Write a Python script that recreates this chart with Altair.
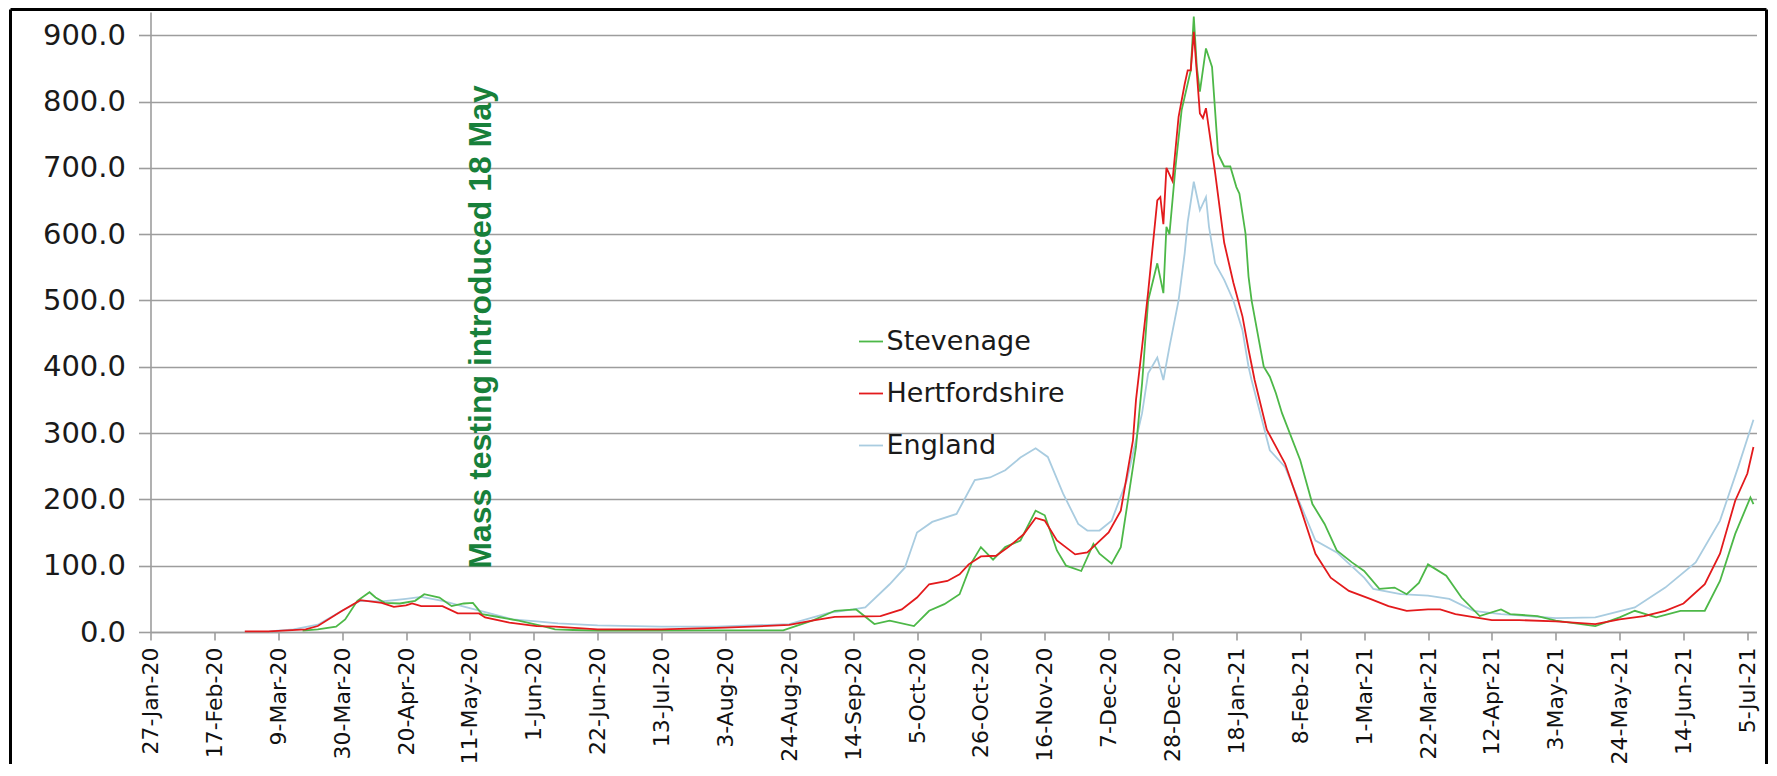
import altair as alt
import pandas as pd

# ---------------- data ----------------
series_names = ["Stevenage", "Hertfordshire", "England"]
series_colors = ["#4DB848", "#E31A1C", "#A9CCE0"]

england_dates = [
    "2020-03-06", "2020-03-14", "2020-03-22", "2020-03-30", "2020-04-05", "2020-04-12",
    "2020-04-20", "2020-04-25", "2020-05-02", "2020-05-10", "2020-05-17", "2020-05-25",
    "2020-06-02", "2020-06-09", "2020-06-22", "2020-07-13", "2020-07-31", "2020-08-24",
    "2020-09-06", "2020-09-14", "2020-09-18", "2020-09-26", "2020-10-01", "2020-10-05",
    "2020-10-10", "2020-10-18", "2020-10-24", "2020-10-29", "2020-11-03", "2020-11-08",
    "2020-11-13", "2020-11-17", "2020-11-22", "2020-11-27", "2020-11-30", "2020-12-04",
    "2020-12-08", "2020-12-13", "2020-12-18", "2020-12-20", "2020-12-23", "2020-12-25",
    "2020-12-27", "2020-12-30", "2021-01-01", "2021-01-02", "2021-01-04", "2021-01-06",
    "2021-01-08", "2021-01-09", "2021-01-11", "2021-01-14", "2021-01-17", "2021-01-20",
    "2021-01-22", "2021-01-23", "2021-01-29", "2021-02-03", "2021-02-08", "2021-02-13",
    "2021-02-20", "2021-03-01", "2021-03-04", "2021-03-13", "2021-03-22", "2021-03-29",
    "2021-04-06", "2021-04-15", "2021-05-03", "2021-05-16", "2021-05-29", "2021-06-08",
    "2021-06-18", "2021-06-26", "2021-07-02", "2021-07-07",
]
england_values = [
    1, 4, 11, 32, 47, 46,
    50, 53, 47, 37, 29, 19,
    16, 13, 10, 8, 8, 12,
    29, 34, 37, 72, 97, 150,
    166, 178, 229, 233, 244, 263,
    277, 264, 209, 163, 153, 153,
    168, 229, 330, 390, 414, 380,
    430, 500, 571, 618, 679, 636,
    656, 611, 556, 531, 500, 455,
    400, 380, 274, 249, 193, 138,
    120, 82, 65, 57, 55, 50,
    32, 27, 21, 22, 37, 67,
    105, 168, 249, 320,
]

herts_dates = [
    "2020-02-27", "2020-03-06", "2020-03-18", "2020-03-22", "2020-03-30", "2020-04-05",
    "2020-04-12", "2020-04-16", "2020-04-20", "2020-04-22", "2020-04-25", "2020-05-02",
    "2020-05-07", "2020-05-14", "2020-05-16", "2020-05-24", "2020-06-02", "2020-06-08",
    "2020-06-22", "2020-07-13", "2020-08-03", "2020-08-24", "2020-09-01", "2020-09-08",
    "2020-09-18", "2020-09-23", "2020-09-30", "2020-10-05", "2020-10-09", "2020-10-15",
    "2020-10-19", "2020-10-22", "2020-10-26", "2020-10-31", "2020-11-04", "2020-11-09",
    "2020-11-13", "2020-11-16", "2020-11-20", "2020-11-26", "2020-11-30", "2020-12-03",
    "2020-12-07", "2020-12-11", "2020-12-15", "2020-12-16", "2020-12-18", "2020-12-20",
    "2020-12-23", "2020-12-24", "2020-12-25", "2020-12-26", "2020-12-28", "2020-12-30",
    "2021-01-01", "2021-01-02", "2021-01-03", "2021-01-04", "2021-01-06", "2021-01-07",
    "2021-01-08", "2021-01-11", "2021-01-14", "2021-01-17", "2021-01-20", "2021-01-22",
    "2021-01-24", "2021-01-28", "2021-02-03", "2021-02-08", "2021-02-13", "2021-02-18",
    "2021-02-24", "2021-03-03", "2021-03-09", "2021-03-15", "2021-03-22", "2021-03-26",
    "2021-03-31", "2021-04-08", "2021-04-12", "2021-04-21", "2021-05-03", "2021-05-16",
    "2021-05-24", "2021-06-01", "2021-06-08", "2021-06-14", "2021-06-21", "2021-06-26",
    "2021-07-01", "2021-07-05", "2021-07-07",
]
herts_values = [
    1, 1, 4, 9, 32, 48,
    44, 38, 40, 43, 39, 39,
    28, 28, 22, 14, 9, 8,
    4, 4, 6.5, 10.6, 17.7, 22.7,
    23.7, 24, 34, 52, 72, 77,
    87, 102, 114, 115, 128, 147,
    172, 168, 138, 117, 120, 133,
    150, 183, 289, 350, 430, 513,
    651, 656, 615, 700, 680, 777,
    826, 847, 847, 905, 782, 775,
    790, 693, 587, 527, 476, 426,
    380, 305, 254, 188, 118, 82,
    62, 50, 39, 32, 34, 34,
    27, 21, 18, 18, 16, 12,
    19, 24, 32, 43, 72, 118,
    198, 239, 279,
]

stev_dates = [
    "2020-03-17", "2020-03-22", "2020-03-28", "2020-03-31", "2020-04-04", "2020-04-08",
    "2020-04-10", "2020-04-13", "2020-04-18", "2020-04-23", "2020-04-26", "2020-05-01",
    "2020-05-05", "2020-05-09", "2020-05-12", "2020-05-15", "2020-05-20", "2020-05-27",
    "2020-06-04", "2020-06-08", "2020-06-14", "2020-06-22", "2020-07-31", "2020-08-22",
    "2020-09-01", "2020-09-08", "2020-09-15", "2020-09-21", "2020-09-26", "2020-10-04",
    "2020-10-09", "2020-10-14", "2020-10-19", "2020-10-23", "2020-10-26", "2020-10-30",
    "2020-11-03", "2020-11-08", "2020-11-13", "2020-11-16", "2020-11-20", "2020-11-23",
    "2020-11-28", "2020-12-02", "2020-12-04", "2020-12-08", "2020-12-11", "2020-12-13",
    "2020-12-16", "2020-12-18", "2020-12-20", "2020-12-23", "2020-12-25", "2020-12-26",
    "2020-12-27", "2020-12-29", "2020-12-31", "2021-01-03", "2021-01-04", "2021-01-05",
    "2021-01-06", "2021-01-08", "2021-01-10", "2021-01-12", "2021-01-14", "2021-01-16",
    "2021-01-18", "2021-01-19", "2021-01-21", "2021-01-22", "2021-01-23", "2021-01-27",
    "2021-01-29", "2021-01-31", "2021-02-02", "2021-02-08", "2021-02-12", "2021-02-16",
    "2021-02-20", "2021-02-25", "2021-03-01", "2021-03-06", "2021-03-11", "2021-03-15",
    "2021-03-19", "2021-03-22", "2021-03-28", "2021-04-02", "2021-04-08", "2021-04-15",
    "2021-04-18", "2021-04-27", "2021-05-03", "2021-05-16", "2021-05-24", "2021-05-29",
    "2021-06-05", "2021-06-13", "2021-06-21", "2021-06-26", "2021-07-01", "2021-07-06",
    "2021-07-07",
]
stev_values = [
    2, 4, 8, 19, 47, 60,
    52, 44, 43, 47, 57, 52,
    39, 43, 44, 27, 23, 17,
    9, 4, 3, 2, 2.5, 2.5,
    18, 32, 34, 12, 17, 9,
    32, 42, 57, 105, 128, 109,
    128, 138, 183, 176, 123, 100,
    92, 133, 118, 103, 128, 188,
    279, 375, 500, 556, 511, 611,
    600, 702, 787, 847, 928, 852,
    815, 880, 852, 721, 702, 702,
    671, 661, 601, 536, 500, 400,
    385, 360, 330, 259, 193, 163,
    123, 105, 92, 65, 67, 57,
    74, 102, 85, 52, 24, 34,
    27, 24, 17, 9, 22, 32,
    22, 32, 32, 77, 148, 203,
    193,
]

x_tick_dates = [
    "2020-01-27", "2020-02-17", "2020-03-09", "2020-03-30", "2020-04-20", "2020-05-11",
    "2020-06-01", "2020-06-22", "2020-07-13", "2020-08-03", "2020-08-24", "2020-09-14",
    "2020-10-05", "2020-10-26", "2020-11-16", "2020-12-07", "2020-12-28", "2021-01-18",
    "2021-02-08", "2021-03-01", "2021-03-22", "2021-04-12", "2021-05-03", "2021-05-24",
    "2021-06-14", "2021-07-05",
]
x_domain = ["2020-01-27", "2021-07-08"]
y_ticks = [0, 100, 200, 300, 400, 500, 600, 700, 800, 900]
y_max = 935

annotation_text = ["Mass testing introduced 18 May"]
annotation_date = ["2020-05-18"]
annotation_value = [460]

# ---------------- build tables ----------------
frames = []
for name, d, v in [("England", england_dates, england_values),
                   ("Stevenage", stev_dates, stev_values),
                   ("Hertfordshire", herts_dates, herts_values)]:
    frames.append(pd.DataFrame({"date": d, "value": v, "series": name}))
df = pd.concat(frames, ignore_index=True)


def dt(s):
    t = pd.Timestamp(s)
    return alt.DateTime(year=t.year, month=t.month, date=t.day, utc=True)


GRID = "#9d9d9d"

x_enc = alt.X(
    "date:T",
    scale=alt.Scale(type="utc", domain=[dt(s) for s in x_domain], nice=False),
    axis=alt.Axis(
        title=None,
        values=[dt(s) for s in x_tick_dates],
        format="%-d-%b-%y",
        labelAngle=270,
        labelFont="DejaVu Sans",
        labelFontSize=22,
        labelColor="#111111",
        labelPadding=7,
        labelOverlap=False,
        labelFlush=False,
        tickSize=8,
        tickColor=GRID,
        tickWidth=1.6,
        domainColor=GRID,
        domainWidth=1.6,
        grid=False,
    ),
)
y_enc = alt.Y(
    "value:Q",
    scale=alt.Scale(domain=[0, y_max], nice=False, zero=True),
    axis=alt.Axis(
        title=None,
        values=y_ticks,
        format=".1f",
        labelFont="DejaVu Sans",
        labelFontSize=29,
        labelColor="#1a1a1a",
        labelPadding=13,
        tickSize=12,
        tickColor=GRID,
        tickWidth=1.6,
        domainColor=GRID,
        domainWidth=1.6,
        grid=True,
        gridColor=GRID,
        gridWidth=1.6,
    ),
)

lines = alt.Chart(df).mark_line(strokeWidth=1.8).encode(
    x=x_enc,
    y=y_enc,
    color=alt.Color(
        "series:N",
        scale=alt.Scale(domain=series_names, range=series_colors),
        legend=alt.Legend(
            title=None,
            orient="none",
            legendX=707,
            legendY=316,
            direction="vertical",
            symbolType="stroke",
            symbolSize=576,
            symbolStrokeWidth=1.8,
            labelFont="DejaVu Sans",
            labelFontSize=27,
            labelColor="#1a1a1a",
            labelOffset=2,
            rowPadding=24,
            padding=0,
            labelLimit=400,
        ),
    ),
)

ann_df = pd.DataFrame({"date": annotation_date, "value": annotation_value, "label": annotation_text})
annotation = alt.Chart(ann_df).mark_text(
    angle=270,
    align="center",
    baseline="alphabetic",
    font="Liberation Sans",
    fontWeight="bold",
    fontSize=32,
    color="#17803A",
).encode(x="date:T", y="value:Q", text="label:N")

frame_df = pd.DataFrame({"k": [0]})
frame_left = alt.Chart(frame_df).mark_rule(color="black", strokeWidth=3).encode(
    x=alt.value(-140), y=alt.value(-2.5), y2=alt.value(752))
frame_top = alt.Chart(frame_df).mark_rule(color="black", strokeWidth=3).encode(
    x=alt.value(-140), x2=alt.value(1616), y=alt.value(-2.5))
frame_right = alt.Chart(frame_df).mark_rule(color="black", strokeWidth=3).encode(
    x=alt.value(1616), y=alt.value(-2.5), y2=alt.value(752))

chart = alt.layer(lines, annotation, frame_left, frame_top, frame_right).properties(
    width=1606,
    height=620,
    padding={"left": 0.5, "top": 0, "right": 0, "bottom": 0},
    background="white",
).configure_view(stroke=None)

chart.save("out.html", embed_options={"renderer": "svg", "actions": False})
